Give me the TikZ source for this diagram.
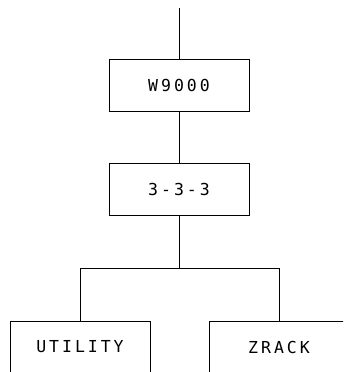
\documentclass[tikz,border=0pt]{standalone}
\usepackage{fontspec}
\newfontfamily\plotfont[LetterSpace=18]{DejaVu Sans Mono}
\usetikzlibrary{positioning}

\begin{document}
\begin{tikzpicture}[
    x=1pt, y=-1pt,
    box/.style={
        draw=black,
        line width=0.7pt,
        minimum width=140pt,
        minimum height=52pt,
        inner sep=0pt,
        font=\plotfont\fontsize{16.5}{18}\selectfont
    },
    link/.style={
        line width=0.7pt,
        black
    }
]

% ============================================================
% CANVAS
% ============================================================

\clip (0,0) rectangle (343,372);

% ============================================================
% TREE
% ============================================================

\coordinate (root) at (179,8);

\node[box] (w9000) at (179,85) {W9000};
\node[box] (triple) at (179,189) {3-3-3};

\node[box] (utility) at (80,347) {UTILITY};
\node[box] (zrack) at (279,347) {ZRACK};

% Links
\draw[link] (root) -- (w9000.north);
\draw[link] (w9000.south) -- (triple.north);
\draw[link] (triple.south) -- ++(0,53) coordinate (fork);
\draw[link] (fork) -| (utility.north);
\draw[link] (fork) -| (zrack.north);

\end{tikzpicture}
\end{document}
